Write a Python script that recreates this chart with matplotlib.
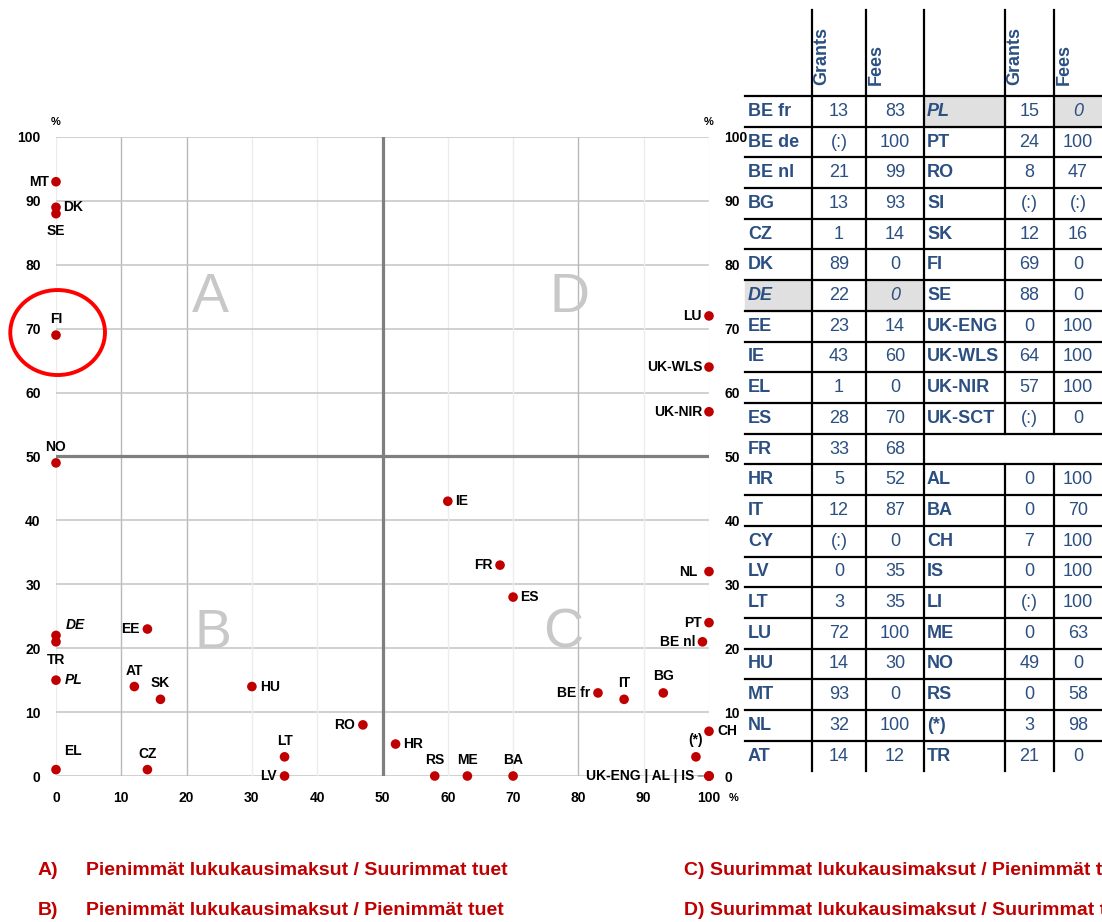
import matplotlib.pyplot as plt
import numpy as np
from matplotlib import font_manager
from matplotlib.patches import Ellipse, Rectangle

names = {f.name for f in font_manager.fontManager.ttflist}
narrow = 'Liberation Sans Narrow' if 'Liberation Sans Narrow' in names else 'Liberation Sans'
plt.rcParams.update({"font.family": [narrow, "DejaVu Sans"], "font.size": 10})

# table data (grants %, fees %), '(:)' = not available
left_names = ['BE fr', 'BE de', 'BE nl', 'BG', 'CZ', 'DK', 'DE', 'EE', 'IE', 'EL', 'ES',
              'FR', 'HR', 'IT', 'CY', 'LV', 'LT', 'LU', 'HU', 'MT', 'NL', 'AT']
left_grants = ['13', '(:)', '21', '13', '1', '89', '22', '23', '43', '1', '28',
               '33', '5', '12', '(:)', '0', '3', '72', '14', '93', '32', '14']
left_fees = ['83', '100', '99', '93', '14', '0', '0', '14', '60', '0', '70',
             '68', '52', '87', '0', '35', '35', '100', '30', '0', '100', '12']

right_names = ['PL', 'PT', 'RO', 'SI', 'SK', 'FI', 'SE', 'UK-ENG', 'UK-WLS', 'UK-NIR', 'UK-SCT',
               '', 'AL', 'BA', 'CH', 'IS', 'LI', 'ME', 'NO', 'RS', '(*)', 'TR']
right_grants = ['15', '24', '8', '(:)', '12', '69', '88', '0', '64', '57', '(:)',
                '', '0', '0', '7', '0', '(:)', '0', '49', '0', '3', '21']
right_fees = ['0', '100', '47', '(:)', '16', '0', '0', '100', '100', '100', '0',
              '', '100', '70', '100', '100', '100', '63', '0', '58', '98', '0']

italic_cells = ['DE', 'PL']

legend_lines = [('A)', 'Pienimmät lukukausimaksut / Suurimmat tuet'),
                ('B)', 'Pienimmät lukukausimaksut / Pienimmät tuet'),
                ('C)', 'Suurimmat lukukausimaksut / Pienimmät tuet'),
                ('D)', 'Suurimmat lukukausimaksut / Suurimmat tuet')]

# label placement (pixel offsets, alignment)
label_pos = {
    'MT': (-7, 0, 'right'), 'DK': (7, 0, 'left'), 'SE': (0, -17, 'center'),
    'FI': (0, 16, 'center'), 'NO': (0, 16, 'center'), 'DE': (10, 10, 'left'),
    'TR': (0, -18, 'center'), 'PL': (9, 0, 'left'), 'EL': (8, 19, 'left'),
    'EE': (-8, 0, 'right'), 'AT': (0, 16, 'center'), 'SK': (0, 16, 'center'),
    'CZ': (0, 16, 'center'), 'HU': (8, 0, 'left'), 'LT': (0, 16, 'center'),
    'LV': (-8, 0, 'right'), 'RO': (-8, 0, 'right'), 'HR': (8, 0, 'left'),
    'RS': (0, 16, 'center'), 'ME': (0, 16, 'center'), 'BA': (0, 16, 'center'),
    'IE': (7, 0, 'left'), 'FR': (-7, 0, 'right'), 'ES': (7, 0, 'left'),
    'BE fr': (-8, 0, 'right'), 'IT': (0, 16, 'center'), 'BG': (0, 17, 'center'),
    'PT': (-7, 0, 'right'), 'BE nl': (-7, 0, 'right'), 'NL': (-12, 0, 'right'),
    'LU': (-7, 0, 'right'), 'UK-WLS': (-7, 0, 'right'), 'UK-NIR': (-7, 0, 'right'),
    'CH': (8, 0, 'left'), '(*)': (0, 17, 'center'),
}

all_names = left_names + right_names
all_grants = left_grants + right_grants
all_fees = left_fees + right_fees

red = '#c00000'
blue = '#2b4f81'

fig = plt.figure(figsize=(11.02, 9.22), dpi=100)
ax = fig.add_axes([56 / 1102, 1 - 776 / 922, 653 / 1102, 639 / 922])
ax.set_xlim(0, 100)
ax.set_ylim(0, 100)
for s in ax.spines.values():
    s.set_visible(False)

for v in range(0, 101, 10):
    ax.plot([0, 100], [v, v], color='#c4c4c4', lw=1.1, zorder=1)
    vc = '#b8b8b8' if v in (10, 20, 80) else '#ececec'
    ax.plot([v, v], [0, 100], color=vc, lw=1.0, zorder=1)
ax.plot([50, 50], [0, 100], color='#7f7f7f', lw=2.3, zorder=2)
ax.plot([0, 100], [50, 50], color='#7f7f7f', lw=2.3, zorder=2)

ax.set_xticks(range(0, 101, 10))
ax.set_yticks(range(0, 101, 10))
ax.tick_params(length=0, labelsize=10)
ax.tick_params(axis='y', labelleft=True, labelright=True, pad=11)
ax.tick_params(axis='x', pad=11)
for lab in ax.get_xticklabels() + ax.get_yticklabels():
    lab.set_fontweight('bold')
for t in ax.yaxis.get_major_ticks():
    t.label2.set_fontweight('bold')
    t.label2.set_x(1.0)
for t in ax.yaxis.get_major_ticks():
    t.label2.set_horizontalalignment('left')
ax.yaxis.set_tick_params(which='major', pad=11)
for t in ax.yaxis.get_major_ticks():
    t.set_pad(11)

ax.text(0, 101.5, '%', fontsize=8, fontweight='bold', ha='center', va='bottom')
ax.text(100, 101.5, '%', fontsize=8, fontweight='bold', ha='center', va='bottom')
ax.text(103.7, -3.5, '%', fontsize=8, fontweight='bold', ha='center', va='center')

for letter, (qx, qy) in zip('ADBC', [(23.7, 74.8), (78.7, 74.8), (24, 22.3), (77.6, 22.3)]):
    ax.text(qx, qy, letter, fontsize=40, color='#c8c8c8', family='Liberation Sans',
            ha='center', va='center', zorder=1)

# points: x = fees, y = grants
for n, g, f in zip(all_names, all_grants, all_fees):
    if g in ('', '(:)') or f in ('', '(:)'):
        continue
    x, y = float(f), float(g)
    ax.scatter(x, y, s=48, color=red, zorder=5, clip_on=False, edgecolors='none')
    if n in label_pos:
        dx, dy, ha = label_pos[n]
        style = 'italic' if n in italic_cells else 'normal'
        ax.annotate(n, (x, y), xytext=(dx, dy), textcoords='offset pixels',
                    ha=ha, va='center', fontsize=10, fontweight='bold', fontstyle=style,
                    annotation_clip=False, zorder=6)

ax.annotate('UK-ENG | AL | IS', (100, 0), xytext=(-15, 0), textcoords='offset pixels',
            ha='right', va='center', fontsize=10, fontweight='bold', annotation_clip=False,
            arrowprops=dict(arrowstyle='-', color='#808080', lw=1, shrinkA=1, shrinkB=4))

ax.add_patch(Ellipse((0.25, 69.4), 14.5, 13.3, fill=False, ec='#ff0000', lw=2.8,
                     clip_on=False, zorder=7))

# table on the right, pixel coordinates
tax = fig.add_axes([0, 0, 1, 1])
tax.set_xlim(0, 1102)
tax.set_ylim(922, 0)
tax.axis('off')
tax.patch.set_alpha(0)

cols = [745, 812, 866, 924, 1005, 1054, 1102]
top, body, rh = 10, 96, 30.7
nrows = len(left_names)
bottom = body + nrows * rh

for i in range(nrows):
    yc = body + (i + 0.5) * rh
    cells = [left_names[i], left_grants[i], left_fees[i],
             right_names[i], right_grants[i], right_fees[i]]
    for j, txt in enumerate(cells):
        it = (left_names[i] in italic_cells and j in (0, 2)) or \
             (right_names[i] in italic_cells and j in (3, 5))
        if it:
            tax.add_patch(Rectangle((cols[j], body + i * rh), cols[j + 1] - cols[j], rh,
                                    color='#e0e0e0', zorder=0))
        if j in (0, 3):
            tax.text(cols[j] + 3, yc, txt, ha='left', va='center', fontsize=13,
                     fontweight='bold', color=blue, fontstyle='italic' if it else 'normal')
        else:
            tax.text((cols[j] + cols[j + 1]) / 2, yc, txt, ha='center', va='center',
                     fontsize=13, color=blue, fontstyle='italic' if it else 'normal')

for i in range(nrows):
    yl = body + i * rh
    tax.plot([cols[0], cols[-1]], [yl, yl], color='black', lw=1.6)
gap = 11
for j, xv in enumerate(cols[1:-1]):
    if xv in (1005, 1054):
        tax.plot([xv, xv], [top, body + gap * rh], color='black', lw=1.6)
        tax.plot([xv, xv], [body + (gap + 1) * rh, bottom], color='black', lw=1.6)
    else:
        tax.plot([xv, xv], [top, bottom], color='black', lw=1.6)

for xv, h in zip([cols[1], cols[2], cols[4], cols[5]], ['Grants', 'Fees', 'Grants', 'Fees']):
    tax.text(xv + 10, 85, h, rotation=90, ha='center', va='bottom', fontsize=13,
             fontweight='bold', color=blue)

# legend text at the bottom
for k, (tag, txt) in enumerate(legend_lines):
    yl = 870 + (k % 2) * 40
    if k < 2:
        tax.text(38, yl, tag, ha='left', va='center', fontsize=14, fontweight='bold', color=red)
        tax.text(86, yl, txt, ha='left', va='center', fontsize=14, fontweight='bold', color=red)
    else:
        tax.text(684, yl, tag + ' ' + txt, ha='left', va='center', fontsize=14,
                 fontweight='bold', color=red)

fig.savefig('out.png', dpi=100)
